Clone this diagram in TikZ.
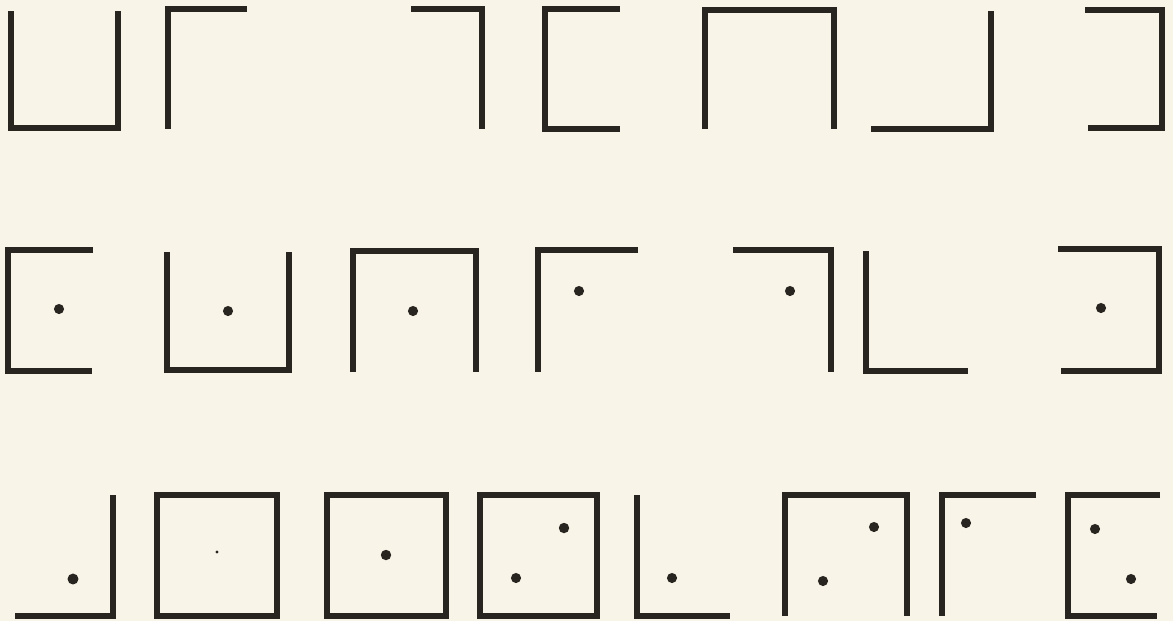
\documentclass[tikz,border=0pt]{standalone}
\usepackage{tikz}
\usetikzlibrary{calc}
\definecolor{paper}{RGB}{248,244,231}
\definecolor{ink}{RGB}{40,36,32}

\tikzset{
  glyph/.style={draw=ink, line width=3.7pt, line join=miter, line cap=butt},
  pip/.style={fill=ink},
}

\begin{document}
\begin{tikzpicture}[x=0.025cm, y=-0.025cm]
    % Sheet
    \fill[paper] (0,0) rectangle (1173,621);
    \useasboundingbox (0,0) rectangle (1173,621);

    % Row 1: plain glyphs
    \draw[glyph] (11,11) -- (11,128) -- (118,128) -- (118,11);
    \draw[glyph] (247,9) -- (168,9) -- (168,129);
    \draw[glyph] (411,9) -- (482,9) -- (482,129);
    \draw[glyph] (620,9) -- (545,9) -- (545,129) -- (620,129);
    \draw[glyph] (705,129) -- (705,10) -- (834,10) -- (834,129);
    \draw[glyph] (871,129) -- (991,129) -- (991,11);
    \draw[glyph] (1085,10) -- (1162,10) -- (1162,128) -- (1088,128);

    % Row 2: glyphs with one dot
    \draw[glyph] (93,250) -- (8,250) -- (8,371) -- (92,371);
    \fill[pip] (59,309) circle (3.6pt);
    \draw[glyph] (167,252) -- (167,370) -- (289,370) -- (289,252);
    \fill[pip] (228,311) circle (3.6pt);
    \draw[glyph] (353,372) -- (353,251) -- (476,251) -- (476,372);
    \fill[pip] (413,311) circle (3.6pt);
    \draw[glyph] (638,250) -- (538,250) -- (538,372);
    \fill[pip] (579,291) circle (3.6pt);
    \draw[glyph] (733,250) -- (831,250) -- (831,372);
    \fill[pip] (790,291) circle (3.6pt);
    \draw[glyph] (866,251) -- (866,371) -- (968,371);
    \fill[pip] (1101,308) circle (3.6pt);
    \draw[glyph] (1058,249) -- (1159,249) -- (1159,371) -- (1061,371);

    % Row 3: mixed glyphs, some with two dots
    \draw[glyph] (113,495) -- (113,616) -- (15,616);
    \fill[pip] (73,579) circle (3.9pt);
    \draw[glyph] (157,495) rectangle (277,616);
    \fill[pip] (217,552) circle (1.1pt);
    \draw[glyph] (327,495) rectangle (446,616);
    \fill[pip] (386,555) circle (3.7pt);
    \draw[glyph] (480,495) rectangle (597,616);
    \fill[pip] (564,528) circle (3.7pt);
    \fill[pip] (516,578) circle (3.6pt);
    \draw[glyph] (637,495) -- (637,616) -- (730,616);
    \fill[pip] (672,578) circle (3.6pt);
    \draw[glyph] (785,616) -- (785,495) -- (907,495) -- (907,616);
    \fill[pip] (874,527) circle (3.6pt);
    \fill[pip] (823,581) circle (3.6pt);
    \draw[glyph] (1036,495) -- (942,495) -- (942,616);
    \fill[pip] (966,523) circle (3.6pt);
    \draw[glyph] (1160,495) -- (1068,495) -- (1068,616) -- (1157,616);
    \fill[pip] (1095,529) circle (3.6pt);
    \fill[pip] (1131,579) circle (3.6pt);
\end{tikzpicture}
\end{document}
